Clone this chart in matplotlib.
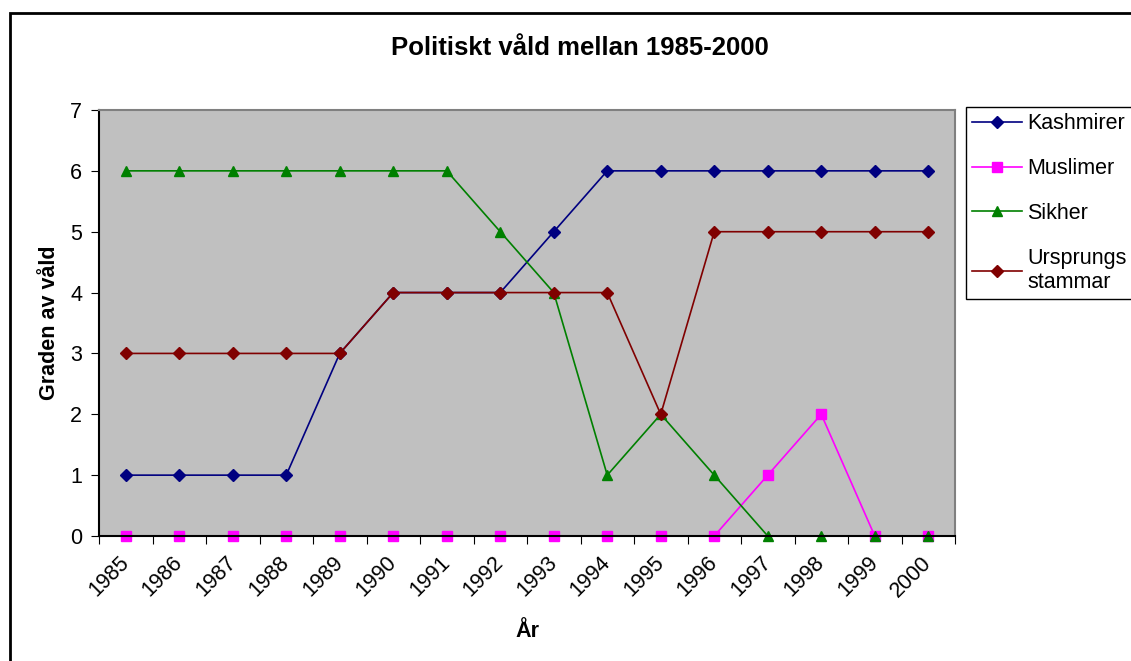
import matplotlib.pyplot as plt
from matplotlib.patches import Rectangle

plt.rcParams['font.family'] = ['Liberation Sans', 'DejaVu Sans']

# Datos
years = ['1985', '1986', '1987', '1988', '1989', '1990', '1991', '1992',
         '1993', '1994', '1995', '1996', '1997', '1998', '1999', '2000']
kashmirer = [1, 1, 1, 1, 3, 4, 4, 4, 5, 6, 6, 6, 6, 6, 6, 6]
muslimer = [0, 0, 0, 0, 0, 0, 0, 0, 0, 0, 0, 0, 1, 2, 0, 0]
sikher = [6, 6, 6, 6, 6, 6, 6, 5, 4, 1, 2, 1, 0, 0, 0, 0]
ursprung = [3, 3, 3, 3, 3, 4, 4, 4, 4, 4, 2, 5, 5, 5, 5, 5]
yticks = [0, 1, 2, 3, 4, 5, 6, 7]

fig = plt.figure(figsize=(11.31, 6.61), dpi=100)
ax = fig.add_axes([99 / 1131, 1 - 536 / 661, (955 - 99) / 1131, (536 - 110) / 661])
ax.set_facecolor('#C0C0C0')

x = list(range(len(years)))
ax.plot(x, kashmirer, color='#000080', marker='D', markersize=6, lw=1.2, label='Kashmirer', clip_on=False)
ax.plot(x, muslimer, color='#FF00FF', marker='s', markersize=6.5, lw=1.2, label='Muslimer', clip_on=False)
ax.plot(x, sikher, color='#008000', marker='^', markersize=7.5, lw=1.2, label='Sikher', clip_on=False)
ax.plot(x, ursprung, color='#800000', marker='D', markersize=6, lw=1.2, label='Ursprungs\nstammar', clip_on=False)

# Eje de categorías: marcas entre las categorías
ax.set_xlim(-0.5, len(years) - 0.5)
ax.set_xticks([i - 0.5 for i in range(len(years) + 1)])
ax.set_xticklabels([])
ax.set_xticks(x, minor=True)
ax.set_xticklabels(years, minor=True, rotation=45, ha='right', va='center',
                   rotation_mode='anchor', fontsize=15.5)
ax.tick_params(axis='x', which='minor', length=0, pad=17)
ax.tick_params(axis='x', which='major', length=6, direction='out', color='black')

ax.set_ylim(0, 7)
ax.set_yticks(yticks)
ax.tick_params(axis='y', labelsize=15.5, length=6, direction='out', pad=6)

ax.spines['left'].set_color('black')
ax.spines['bottom'].set_color('black')
ax.spines['top'].set_color('#808080')
ax.spines['right'].set_color('#808080')
for s in ax.spines.values():
    s.set_linewidth(1.5)

ax.set_xlabel('År', fontsize=15.5, fontweight='bold')
ax.xaxis.set_label_coords(0.5, -0.2)
ax.set_ylabel('Graden av våld', fontsize=15.5, fontweight='bold')
ax.yaxis.set_label_coords(-0.046, 0.5)
fig.text(580 / 1131, 1 - 48 / 661, 'Politiskt våld mellan 1985-2000', fontsize=18.5,
         fontweight='bold', ha='center', va='center')

leg = ax.legend(loc='upper left', bbox_to_anchor=(966 / 1131, 1 - 107 / 661),
                bbox_transform=fig.transFigure, fontsize=15.5, frameon=True, fancybox=False,
                edgecolor='black', framealpha=1, handlelength=2.3, handletextpad=0.25,
                labelspacing=1.1, borderaxespad=0, borderpad=0.3)
leg.get_frame().set_linewidth(1.0)

# Borde exterior de la figura
fig.patches.append(Rectangle((10 / 1131, -0.05), 1.1, 1 - 13 / 661 + 0.05, transform=fig.transFigure,
                             fill=False, edgecolor='black', lw=2, clip_on=False))

fig.savefig('out.png', dpi=100)
